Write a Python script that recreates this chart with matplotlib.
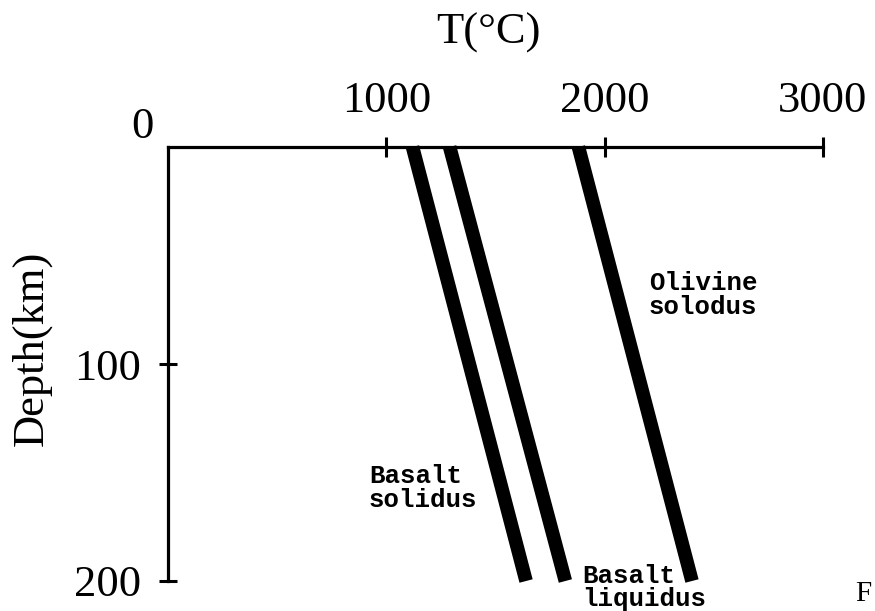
import matplotlib
matplotlib.use("Agg")
import matplotlib.pyplot as plt

# melting curves: temperature (deg C) at the surface and at 200 km
depth_km = [0, 200]
basalt_solidus = [1120, 1640]
basalt_liquidus = [1290, 1820]
olivine_solidus = [1880, 2400]

x_ticks = [1000, 2000, 3000]
y_ticks = [100, 200]

SERIF = "Liberation Serif"
MONO = "Liberation Mono"

fig = plt.figure(figsize=(8.75, 6.11), dpi=100)
ax = fig.add_axes([168 / 875, 1 - 581 / 611, 655 / 875, 434 / 611])

for temps in (basalt_solidus, basalt_liquidus, olivine_solidus):
    ax.plot(temps, depth_km, color="black", lw=9.8,
            solid_capstyle="butt", clip_on=False, zorder=2)

ax.set_xlim(0, 3000)
ax.set_ylim(200, 0)

for side in ("right", "bottom"):
    ax.spines[side].set_visible(False)
for side in ("top", "left"):
    ax.spines[side].set_linewidth(2.3)

ax.xaxis.tick_top()
ax.set_xticks(x_ticks)
ax.set_yticks(y_ticks)
ax.tick_params(axis="x", direction="inout", length=14, width=2.2, pad=12,
               labelsize=32)
ax.tick_params(axis="y", direction="inout", length=13, width=2.2, pad=13,
               labelsize=32)
for lab in ax.get_xticklabels() + ax.get_yticklabels():
    lab.set_fontfamily(SERIF)

fig.text(142 / 875, 1 - 127 / 611, "0", family=SERIF, fontsize=32,
         ha="center", va="center")
fig.text(488 / 875, 1 - 33 / 611, "T(°C)", family=SERIF, fontsize=32,
         ha="center", va="center")
fig.text(32 / 875, 1 - 348 / 611, "Depth(km)", family=SERIF, fontsize=32,
         ha="center", va="center", rotation=90)
fig.text(855 / 875, 1 - 594 / 611, "F", family=SERIF, fontsize=21,
         ha="left", va="center")

ax.text(920, 157, "Basalt\nsolidus", family=MONO, fontsize=18.5,
        fontweight="bold", ha="left", va="center", linespacing=1.0)
ax.text(1897, 203, "Basalt\nliquidus", family=MONO, fontsize=18.5,
        fontweight="bold", ha="left", va="center", linespacing=0.9,
        clip_on=False)
ax.text(2203, 68, "Olivine\nsolodus", family=MONO, fontsize=18.5,
        fontweight="bold", ha="left", va="center", linespacing=1.0)

fig.savefig("out.png", dpi=100)
